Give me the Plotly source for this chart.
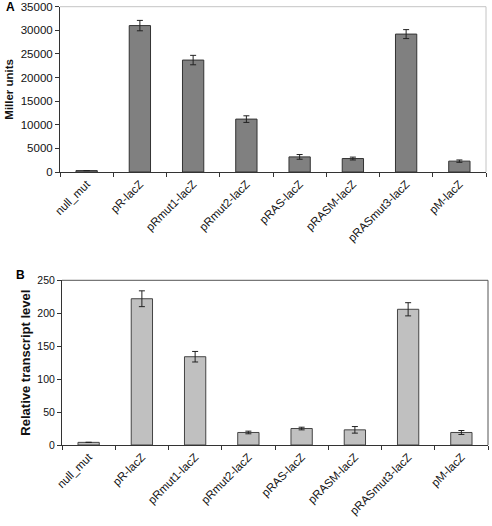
import plotly.graph_objects as go

categories = ["null_mut", "pR-lacZ", "pRmut1-lacZ", "pRmut2-lacZ", "pRAS-lacZ",
              "pRASM-lacZ", "pRASmut3-lacZ", "pM-lacZ"]
miller_units = [300, 31000, 23700, 11200, 3200, 2850, 29200, 2300]
miller_err = [0, 1100, 1000, 700, 500, 300, 950, 250]
transcript = [4, 222, 134, 19, 25, 23, 206, 19]
transcript_err = [0, 12, 8, 2, 2, 5, 10, 3]

W, H = 492, 526
font = "Liberation Sans, Arial, sans-serif"

fig = go.Figure()
fig.add_trace(go.Bar(
    x=categories, y=miller_units, xaxis="x", yaxis="y",
    marker=dict(color="#808080", line=dict(color="#333333", width=1)),
    error_y=dict(type="data", array=miller_err, color="#222222", thickness=1, width=3),
    width=0.4, showlegend=False))
fig.add_trace(go.Bar(
    x=categories, y=transcript, xaxis="x2", yaxis="y2",
    marker=dict(color="#c0c0c0", line=dict(color="#444444", width=1)),
    error_y=dict(type="data", array=transcript_err, color="#222222", thickness=1, width=3),
    width=0.4, showlegend=False))

xa = dict(type="category", ticks="outside", ticklen=4, tickcolor="#333333",
          tickson="boundaries", tickangle=-45, showline=True, linecolor="#333333",
          linewidth=1, tickfont=dict(family=font, size=11.5, color="#111111"),
          showgrid=False, zeroline=False, range=[-0.5, 7.5], automargin=False)
ya = dict(ticks="outside", ticklen=4, tickcolor="#333333", showline=True,
          linecolor="#333333", linewidth=1, showgrid=False, zeroline=False,
          tickformat="d", automargin=False)

fig.update_layout(
    width=W, height=H, margin=dict(l=0, r=0, t=0, b=0, autoexpand=False),
    paper_bgcolor="white", plot_bgcolor="white",
    xaxis=dict(xa, domain=[60 / W, 486 / W], anchor="y"),
    yaxis=dict(ya, domain=[1 - 172 / H, 1 - 6.7 / H], anchor="x",
               range=[0, 35000], dtick=5000,
               tickfont=dict(family=font, size=11.5, color="#111111"),
               title=dict(text="<b>Miller units</b>", standoff=4,
                          font=dict(family=font, size=11.5, color="#111111"))),
    xaxis2=dict(xa, domain=[62 / W, 488 / W], anchor="y2"),
    yaxis2=dict(ya, domain=[1 - 445 / H, 1 - 280.3 / H], anchor="x2",
                range=[0, 250], dtick=50,
                tickfont=dict(family=font, size=10.5, color="#111111"),
                title=dict(text="<b>Relative transcript level</b>", standoff=3,
                           font=dict(family=font, size=13, color="#111111"))),
    shapes=[
        dict(type="line", xref="x domain", yref="y domain", x0=0, x1=1, y0=1, y1=1,
             line=dict(color="#c4c4c4", width=1)),
        dict(type="line", xref="x domain", yref="y domain", x0=1, x1=1, y0=0, y1=1,
             line=dict(color="#c4c4c4", width=1)),
        dict(type="line", xref="x2 domain", yref="y2 domain", x0=0, x1=1, y0=1, y1=1,
             line=dict(color="#555555", width=1)),
        dict(type="line", xref="x2 domain", yref="y2 domain", x0=1, x1=1, y0=0, y1=1,
             line=dict(color="#555555", width=1)),
    ],
    annotations=[
        dict(text="<b>A</b>", x=4 / W, y=1 - 7 / H, xref="paper", yref="paper",
             xanchor="left", yanchor="middle", showarrow=False,
             font=dict(family=font, size=12, color="#000000")),
        dict(text="<b>B</b>", x=14 / W, y=1 - 275 / H, xref="paper", yref="paper",
             xanchor="left", yanchor="middle", showarrow=False,
             font=dict(family=font, size=12, color="#000000")),
    ],
)

fig.write_html("out.html", config={"displayModeBar": False},
               post_script="document.body.style.margin='0';document.body.style.overflow='hidden';")
